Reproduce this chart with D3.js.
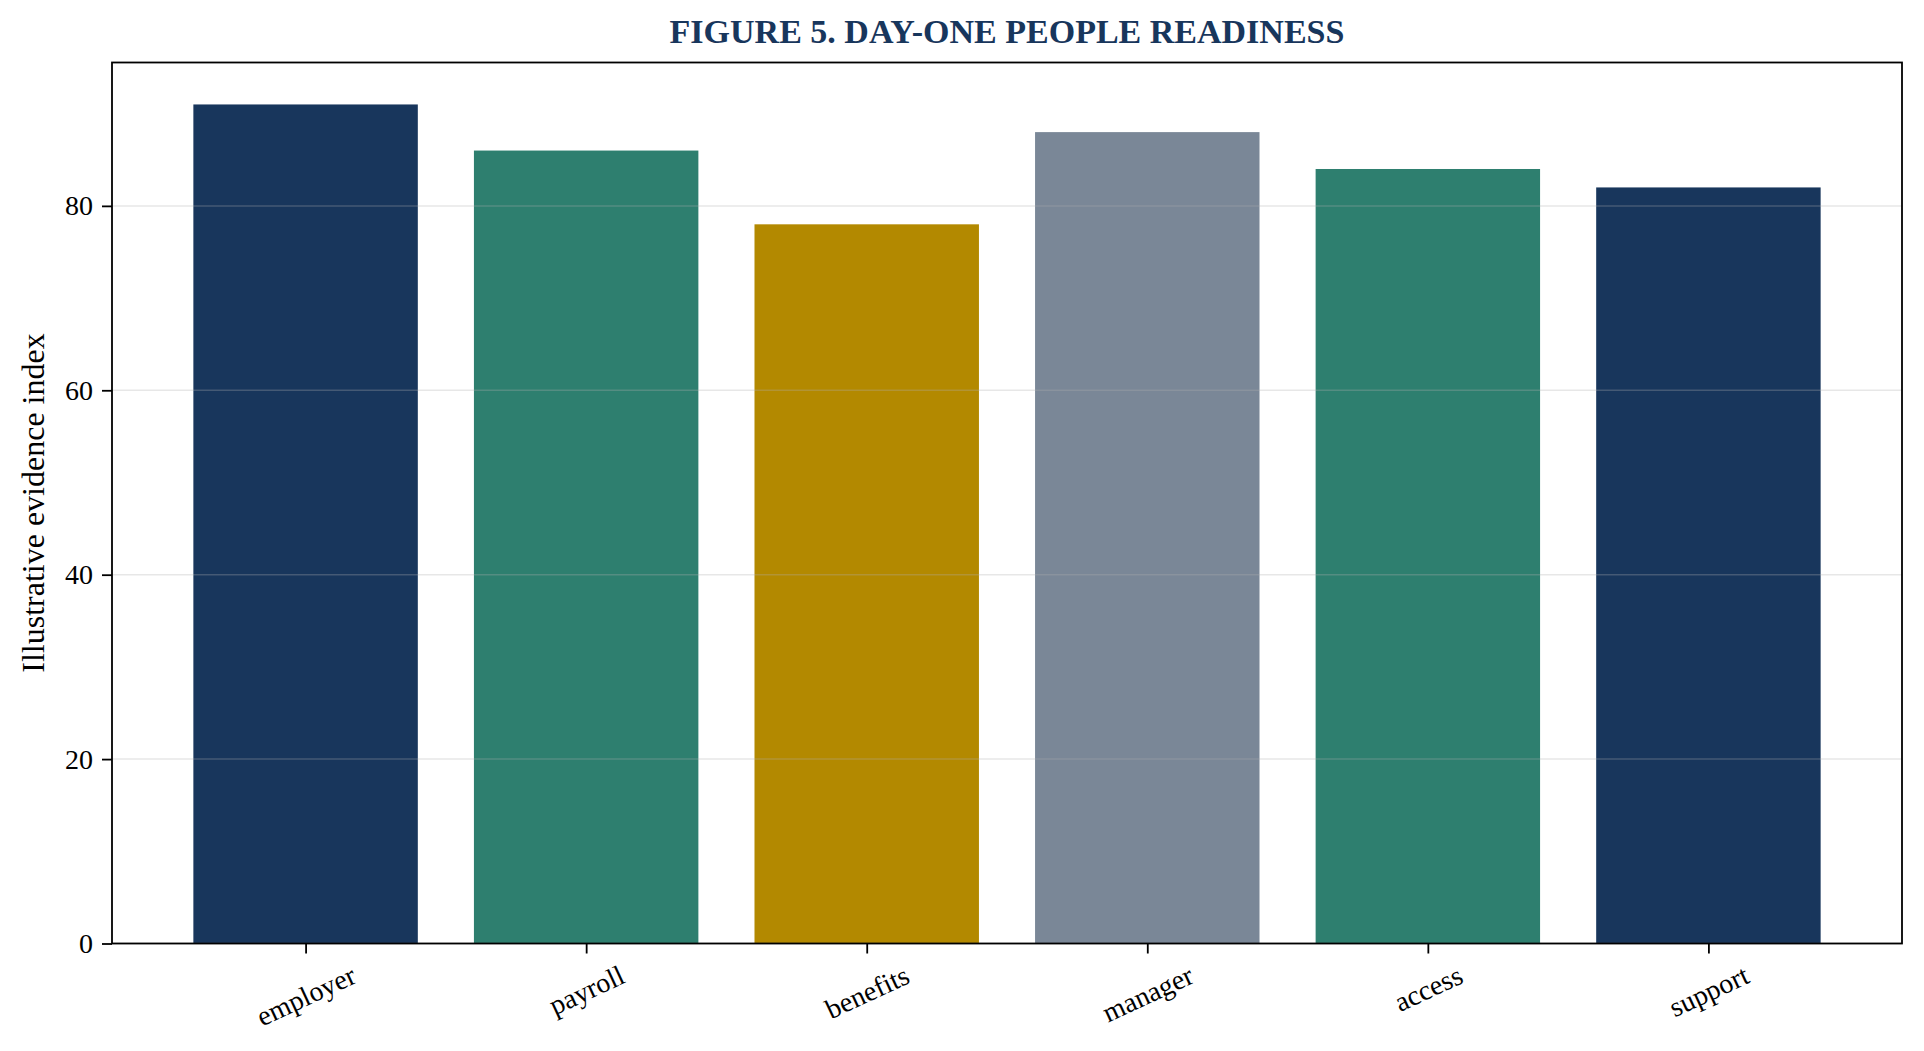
<!DOCTYPE html>
<html>
<head>
<meta charset="utf-8">
<script src="https://cdn.jsdelivr.net/npm/d3@7"></script>
<style>
  body { margin: 0; background: #ffffff; }
  text { font-family: "Liberation Serif", "Times New Roman", serif; }
</style>
</head>
<body>
<div id="chart"></div>
<script>
var width = 1924;
var height = 1051;

// data
var categories = ["employer", "payroll", "benefits", "manager", "access", "support"];
var values = [91, 86, 78, 88, 84, 82];
var yTicks = [0, 20, 40, 60, 80];

// one colour per bar
var barColors = ["#18365c", "#2e7f6f", "#b38900", "#7a8797", "#2e7f6f", "#18365c"];

var plotLeft = 112, plotRight = 1902, plotTop = 62.5, plotBottom = 943.5;

var svg = d3.select("#chart")
    .append("svg")
    .attr("width", width)
    .attr("height", height);

// matplotlib style margins: bars span -0.4..n-0.6, plus 5%
var xMin = -0.4, xMax = categories.length - 0.6;
var xPad = (xMax - xMin) * 0.05;
var x = d3.scaleLinear()
    .domain([xMin - xPad, xMax + xPad])
    .range([plotLeft, plotRight]);

var y = d3.scaleLinear()
    .domain([0, d3.max(values) * 1.05])
    .range([plotBottom, plotTop]);

var barW = x(0.4) - x(-0.4);

//Bars
svg.append("g")
    .selectAll("rect")
    .data(values)
    .join("rect")
    .attr("x", function(d, i) { return x(i) - barW / 2; })
    .attr("y", function(d) { return y(d); })
    .attr("width", barW)
    .attr("height", function(d) { return y(0) - y(d); })
    .attr("fill", function(d, i) { return barColors[i]; });

//Grid (drawn over the bars, like the reference)
svg.append("g")
    .selectAll("line")
    .data(yTicks)
    .join("line")
    .attr("x1", plotLeft)
    .attr("x2", plotRight)
    .attr("y1", function(d) { return y(d); })
    .attr("y2", function(d) { return y(d); })
    .attr("stroke", "#b0b0b0")
    .attr("stroke-opacity", 0.3)
    .attr("stroke-width", 1.5);

//Frame
svg.append("rect")
    .attr("x", plotLeft)
    .attr("y", plotTop)
    .attr("width", plotRight - plotLeft)
    .attr("height", plotBottom - plotTop)
    .attr("fill", "none")
    .attr("stroke", "#000")
    .attr("stroke-width", 1.8);

//Y axis
var yAxis = svg.append("g")
    .attr("transform", "translate(" + plotLeft + ",0)")
    .call(d3.axisLeft(y).tickValues(yTicks).tickSize(10).tickPadding(9));
yAxis.select(".domain").remove();
yAxis.selectAll(".tick line").attr("stroke", "#000").attr("stroke-width", 1.8);
yAxis.selectAll(".tick text")
    .attr("fill", "#000")
    .style("font-size", "28px");

//X axis
var xAxis = svg.append("g")
    .attr("transform", "translate(0," + plotBottom + ")")
    .call(d3.axisBottom(x)
        .tickValues(d3.range(categories.length))
        .tickFormat(function(i) { return categories[i]; })
        .tickSize(10));
xAxis.select(".domain").remove();
xAxis.selectAll(".tick line").attr("stroke", "#000").attr("stroke-width", 1.8);

var rot = 25 * Math.PI / 180;
var fs = 28;
xAxis.selectAll(".tick text")
    .attr("fill", "#000")
    .style("font-size", fs + "px")
    .attr("y", null)
    .attr("dy", null)
    .attr("text-anchor", "middle")
    .attr("dominant-baseline", "central")
    .each(function() {
        var L = this.getComputedTextLength();
        var h = fs * 1.1;
        var boxH = L * Math.sin(rot) + h * Math.cos(rot);
        var yc = 10 + 6 + boxH / 2;
        d3.select(this).attr("transform", "translate(0," + yc + ") rotate(-25)");
    });

//Y label
svg.append("text")
    .attr("transform", "translate(33," + ((plotTop + plotBottom) / 2) + ") rotate(-90)")
    .attr("text-anchor", "middle")
    .attr("dominant-baseline", "central")
    .style("font-size", "32px")
    .attr("fill", "#000")
    .text("Illustrative evidence index");

//Title
svg.append("text")
    .attr("x", (plotLeft + plotRight) / 2)
    .attr("y", 43)
    .attr("text-anchor", "middle")
    .style("font-size", "34px")
    .style("font-weight", "bold")
    .attr("fill", "#18365c")
    .text("FIGURE 5. DAY-ONE PEOPLE READINESS");
</script>
</body>
</html>
